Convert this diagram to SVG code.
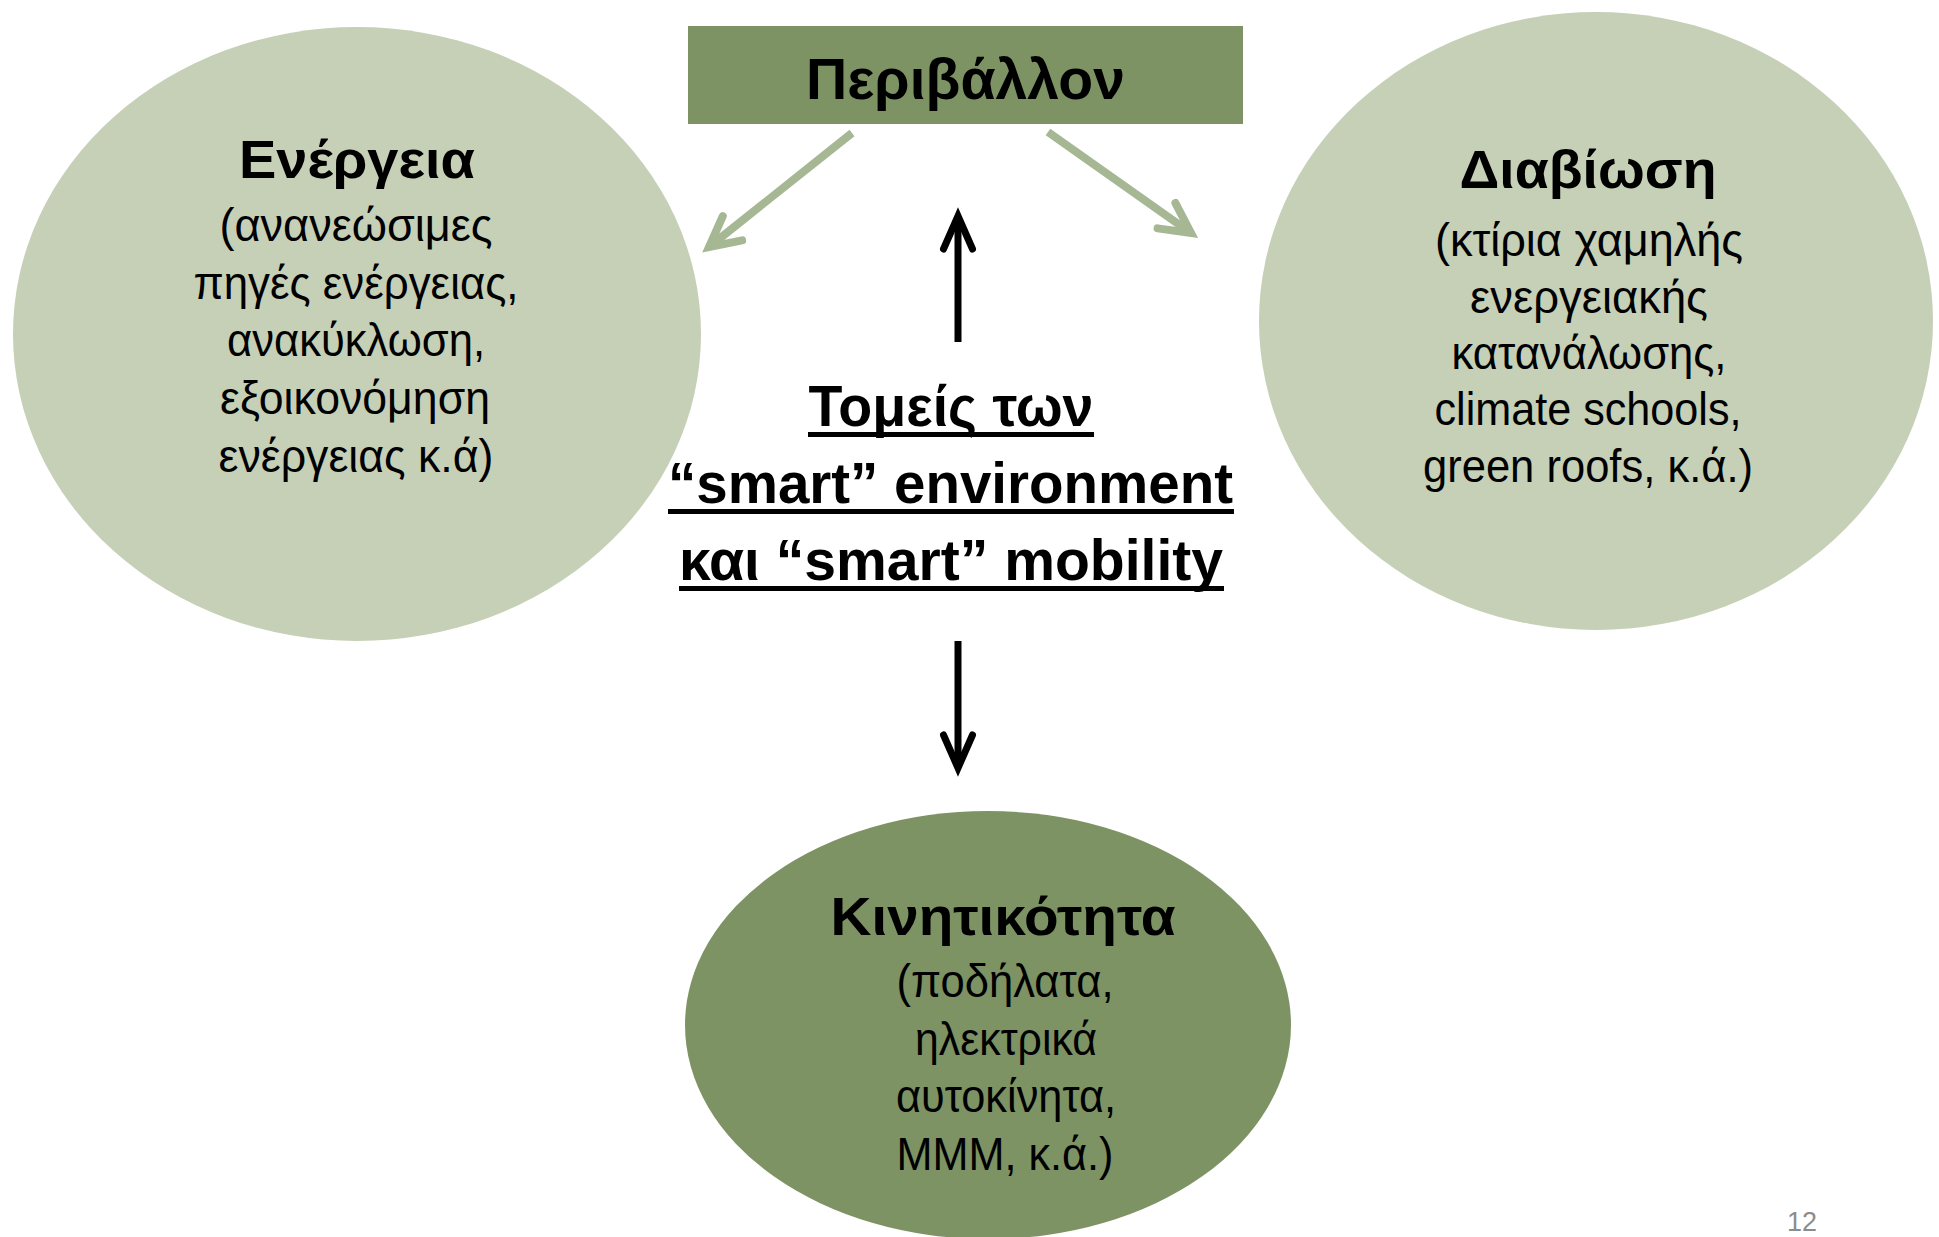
<svg xmlns="http://www.w3.org/2000/svg" width="1939" height="1237" viewBox="0 0 1939 1237">
  <style>
    .bg { fill: #ffffff; }
    .light { fill: #C5D0B6; }
    .dark { fill: #7D9364; }
    .title { font-family: "Liberation Sans", Arial, sans-serif; font-weight: bold; fill: #000; text-anchor: middle; }
    .body { font-family: "Liberation Sans", Arial, sans-serif; font-size: 46px; fill: #000; text-anchor: middle; }
    .green { stroke: #A6B793; stroke-width: 8; fill: none; }
    .black { stroke: #000; stroke-width: 7; fill: none; }
    .ul { fill: #000; }
    .pagenum { font-family: "Liberation Sans", Arial, sans-serif; font-size: 27px; fill: #8C8C8C; }
  </style>
  <defs>
    <marker id="greenHead" markerUnits="userSpaceOnUse" viewBox="-45 -25 55 50" markerWidth="55" markerHeight="50" refX="0" refY="0" orient="auto">
      <path d="M -30 -15.5 L 0 0 L -30 15.5" fill="none" stroke="#A6B793" stroke-width="8" stroke-linecap="round" stroke-linejoin="miter"/>
    </marker>
    <marker id="blackHead" markerUnits="userSpaceOnUse" viewBox="-45 -25 55 50" markerWidth="55" markerHeight="50" refX="0" refY="0" orient="auto">
      <path d="M -33 -14.5 L 0 0 L -33 14.5" fill="none" stroke="#000" stroke-width="7" stroke-linecap="round" stroke-linejoin="miter"/>
    </marker>
  </defs>

  <rect class="bg" x="0" y="0" width="1939" height="1237"/>

  <g id="node-energeia">
    <ellipse class="light" cx="357" cy="334" rx="344" ry="307"/>
    <text class="title" x="357" y="178" font-size="53" textLength="236" lengthAdjust="spacingAndGlyphs">Ενέργεια</text>
    <text class="body" x="356" y="241" textLength="273" lengthAdjust="spacingAndGlyphs">(ανανεώσιμες</text>
    <text class="body" x="356" y="299" textLength="325" lengthAdjust="spacingAndGlyphs">πηγές ενέργειας,</text>
    <text class="body" x="356" y="356" textLength="258" lengthAdjust="spacingAndGlyphs">ανακύκλωση,</text>
    <text class="body" x="355" y="414" textLength="270" lengthAdjust="spacingAndGlyphs">εξοικονόμηση</text>
    <text class="body" x="356" y="472" textLength="275" lengthAdjust="spacingAndGlyphs">ενέργειας κ.ά)</text>
  </g>

  <g id="node-diaviosi">
    <ellipse class="light" cx="1596" cy="321" rx="337" ry="309"/>
    <text class="title" x="1588" y="188" font-size="53" textLength="257" lengthAdjust="spacingAndGlyphs">Διαβίωση</text>
    <text class="body" x="1589" y="256" textLength="308" lengthAdjust="spacingAndGlyphs">(κτίρια χαμηλής</text>
    <text class="body" x="1589" y="313" textLength="238" lengthAdjust="spacingAndGlyphs">ενεργειακής</text>
    <text class="body" x="1589" y="369" textLength="275" lengthAdjust="spacingAndGlyphs">κατανάλωσης,</text>
    <text class="body" x="1588" y="425" textLength="307" lengthAdjust="spacingAndGlyphs">climate schools,</text>
    <text class="body" x="1588" y="482" textLength="330" lengthAdjust="spacingAndGlyphs">green roofs, κ.ά.)</text>
  </g>

  <g id="node-kinitikotita">
    <ellipse class="dark" cx="988" cy="1025" rx="303" ry="214"/>
    <text class="title" x="1003" y="935" font-size="53" textLength="345" lengthAdjust="spacingAndGlyphs">Κινητικότητα</text>
    <text class="body" x="1005" y="997" textLength="217" lengthAdjust="spacingAndGlyphs">(ποδήλατα,</text>
    <text class="body" x="1006" y="1055" textLength="182" lengthAdjust="spacingAndGlyphs">ηλεκτρικά</text>
    <text class="body" x="1006" y="1112" textLength="220" lengthAdjust="spacingAndGlyphs">αυτοκίνητα,</text>
    <text class="body" x="1005" y="1170" textLength="217" lengthAdjust="spacingAndGlyphs">ΜΜΜ, κ.ά.)</text>
  </g>

  <g id="node-perivallon">
    <rect class="dark" x="688" y="26" width="555" height="98"/>
    <text class="title" x="965.5" y="99" font-size="58" textLength="319" lengthAdjust="spacingAndGlyphs">Περιβάλλον</text>
  </g>

  <g id="node-center">
    <text class="title" x="951" y="426" font-size="57" textLength="285" lengthAdjust="spacingAndGlyphs">Τομείς των</text>
    <rect class="ul" x="808" y="432" width="286" height="5"/>
    <text class="title" x="950.5" y="503" font-size="57" textLength="565" lengthAdjust="spacingAndGlyphs">“smart” environment</text>
    <rect class="ul" x="668" y="509" width="566" height="5"/>
    <text class="title" x="951" y="580" font-size="57" textLength="544" lengthAdjust="spacingAndGlyphs">και “smart” mobility</text>
    <rect class="ul" x="679" y="586" width="545" height="5"/>
  </g>

  <g id="connectors">
    <line class="green" x1="852" y1="133" x2="709" y2="247" marker-end="url(#greenHead)"/>
    <line class="green" x1="1048" y1="132" x2="1191" y2="233" marker-end="url(#greenHead)"/>
    <line class="black" x1="958" y1="342" x2="958" y2="216" marker-end="url(#blackHead)"/>
    <line class="black" x1="958" y1="641" x2="958" y2="768" marker-end="url(#blackHead)"/>
  </g>

  <text class="pagenum" x="1787" y="1231">12</text>
</svg>
